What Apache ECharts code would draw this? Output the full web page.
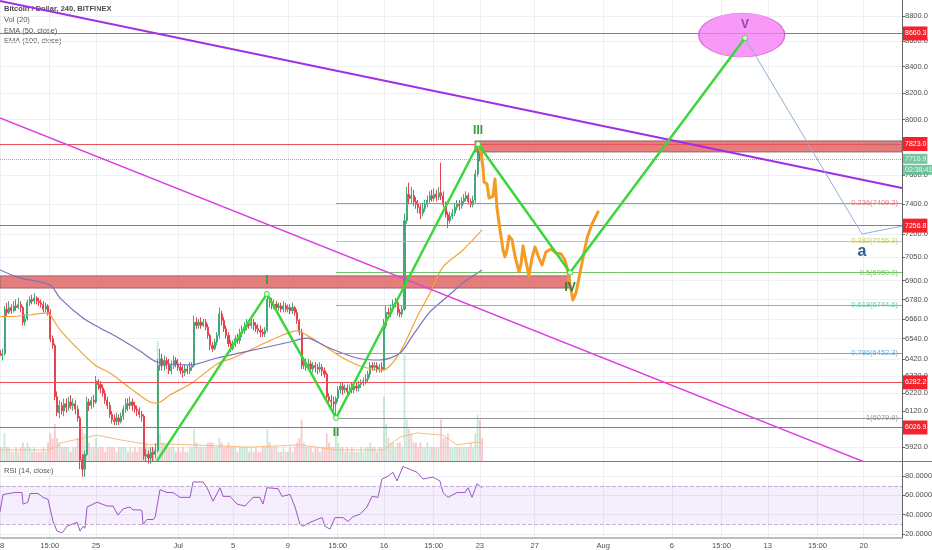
<!DOCTYPE html>
<html>
<head>
<meta charset="utf-8">
<script src="https://cdn.jsdelivr.net/npm/echarts@6.0.0/dist/echarts.min.js"></script>
<style>
  html, body { margin: 0; padding: 0; background: #fff; }
  #chart { width: 932px; height: 550px; }
</style>
</head>
<body>
<div id="chart"></div>
<script>

// 4h candles, first one opens Jun 18 00:00 -- [open, close, low, high]
var candles = [
  [6470,6440,6420,6490],[6440,6450,6410,6480],[6450,6720,6440,6740],[6720,6700,6680,6760],[6700,6730,6690,6770],[6730,6710,6690,6750],
  [6710,6740,6700,6770],[6740,6730,6710,6780],[6730,6750,6720,6790],[6750,6730,6700,6770],[6730,6640,6620,6740],[6640,6660,6620,6690],
  [6660,6760,6650,6780],[6760,6780,6740,6800],[6780,6770,6750,6810],[6770,6790,6750,6820],[6790,6770,6750,6800],[6770,6760,6740,6790],
  [6760,6750,6730,6780],[6750,6720,6700,6770],[6720,6740,6700,6760],[6740,6700,6680,6750],[6700,6540,6520,6720],[6540,6500,6480,6560],
  [6500,6200,6180,6510],[6200,6110,6090,6230],[6110,6150,6080,6180],[6150,6120,6100,6170],[6120,6160,6090,6190],[6160,6140,6110,6190],
  [6140,6170,6120,6200],[6170,6150,6130,6210],[6150,6160,6120,6190],[6160,6130,6100,6180],[6130,6080,6060,6150],[6080,5850,5800,6090],
  [5850,5800,5760,5880],[5800,5880,5760,5900],[5880,6170,5870,6200],[6170,6150,6120,6190],[6150,6180,6130,6200],[6180,6170,6140,6210],
  [6170,6290,6160,6320],[6290,6270,6240,6300],[6270,6250,6220,6290],[6250,6220,6200,6270],[6220,6180,6160,6240],[6180,6150,6130,6200],
  [6150,6100,6080,6170],[6100,6070,6050,6120],[6070,6060,6040,6100],[6060,6080,6040,6110],[6080,6060,6040,6100],[6060,6090,6050,6110],
  [6090,6130,6070,6150],[6130,6160,6110,6190],[6160,6150,6120,6190],[6150,6170,6130,6200],[6170,6150,6120,6190],[6150,6130,6110,6170],
  [6130,6120,6090,6150],[6120,6100,6080,6140],[6100,6090,6060,6120],[6090,5870,5850,6100],[5870,5880,5840,5910],[5880,5860,5830,5900],
  [5860,5890,5830,5920],[5890,5880,5840,5920],[5880,5900,5860,5940],[5900,6380,5890,6420],[6380,6420,6350,6480],[6420,6380,6350,6450],
  [6380,6410,6350,6440],[6410,6390,6360,6430],[6390,6350,6330,6420],[6350,6380,6330,6410],[6380,6410,6360,6440],[6410,6390,6370,6430],
  [6390,6370,6350,6420],[6370,6350,6330,6400],[6350,6340,6310,6380],[6340,6360,6320,6390],[6360,6350,6330,6380],[6350,6370,6330,6400],
  [6370,6380,6350,6400],[6380,6640,6370,6680],[6640,6620,6600,6670],[6620,6640,6600,6660],[6640,6620,6600,6670],[6620,6640,6610,6660],
  [6640,6610,6590,6660],[6610,6560,6540,6630],[6560,6500,6470,6570],[6500,6480,6460,6520],[6480,6520,6470,6540],[6520,6560,6500,6580],
  [6560,6690,6540,6730],[6690,6650,6620,6710],[6650,6600,6580,6670],[6600,6560,6540,6620],[6560,6510,6490,6580],[6510,6480,6460,6530],
  [6480,6510,6470,6530],[6510,6540,6490,6560],[6540,6530,6510,6570],[6530,6570,6510,6600],[6570,6590,6550,6620],[6590,6610,6570,6640],
  [6610,6630,6590,6660],[6630,6620,6600,6650],[6620,6640,6600,6680],[6640,6620,6590,6660],[6620,6600,6580,6640],[6600,6590,6570,6630],
  [6590,6580,6550,6620],[6580,6570,6550,6600],[6570,6590,6550,6610],[6590,6780,6580,6830],[6780,6760,6730,6800],[6760,6740,6720,6790],
  [6740,6750,6720,6780],[6750,6730,6700,6770],[6730,6740,6710,6760],[6740,6720,6700,6760],[6720,6740,6700,6770],[6740,6720,6700,6760],
  [6720,6730,6700,6750],[6730,6710,6690,6750],[6710,6730,6690,6760],[6730,6700,6680,6740],[6700,6650,6630,6720],[6650,6580,6560,6660],
  [6580,6380,6360,6600],[6380,6400,6360,6430],[6400,6370,6350,6420],[6370,6390,6350,6420],[6390,6360,6340,6410],[6360,6380,6340,6400],
  [6380,6370,6340,6400],[6370,6360,6330,6390],[6360,6370,6340,6400],[6370,6350,6320,6390],[6350,6330,6310,6370],[6330,6200,6180,6340],
  [6200,6180,6160,6220],[6180,6170,6140,6210],[6170,6160,6120,6200],[6160,6190,6080,6200],[6190,6240,6170,6260],[6240,6260,6220,6280],
  [6260,6240,6210,6280],[6240,6250,6220,6270],[6250,6230,6210,6270],[6230,6250,6210,6270],[6250,6240,6220,6280],[6240,6260,6220,6280],
  [6260,6250,6230,6280],[6250,6270,6230,6290],[6270,6280,6250,6300],[6280,6290,6260,6310],[6290,6300,6270,6330],[6300,6330,6280,6350],
  [6330,6380,6310,6400],[6380,6370,6350,6400],[6370,6380,6350,6400],[6380,6360,6340,6400],[6360,6370,6340,6390],[6370,6360,6340,6400],
  [6360,6620,6350,6660],[6620,6700,6600,6740],[6700,6690,6660,6730],[6690,6720,6670,6750],[6720,6750,6700,6780],[6750,6760,6730,6790],
  [6760,6700,6680,6780],[6700,6690,6670,6720],[6690,6720,6670,6740],[6720,7290,6710,7340],[7290,7470,7270,7520],[7470,7440,7400,7550],
  [7440,7460,7410,7520],[7460,7420,7390,7500],[7420,7400,7370,7450],[7400,7380,7340,7430],[7380,7340,7300,7400],[7340,7370,7320,7410],
  [7370,7400,7350,7430],[7400,7430,7380,7460],[7430,7460,7410,7490],[7460,7440,7420,7500],[7440,7470,7420,7510],[7470,7450,7420,7500],
  [7450,7480,7430,7520],[7480,7460,7430,7690],[7460,7400,7380,7490],[7400,7330,7310,7420],[7330,7290,7240,7350],[7290,7320,7270,7350],
  [7320,7340,7300,7370],[7340,7380,7320,7410],[7380,7400,7360,7430],[7400,7390,7360,7430],[7390,7420,7370,7450],[7420,7440,7400,7470],
  [7440,7460,7420,7490],[7460,7420,7400,7480],[7420,7400,7380,7440],[7400,7430,7380,7460],[7430,7610,7410,7640],[7610,7790,7590,7810],
  [7790,7760,7700,7823],[7760,7717,7690,7790]
];

// volume per candle (relative units)
var volumes = [
  3,3,6,3,3,2, 2,3,2,3,4,3, 4,3,2,3,2,2, 2,3,2,4,6,5, 8,5,4,3,3,3, 3,2,3,3,5,8,
  7,6,8,4,3,3, 5,3,3,3,2,3, 3,3,3,2,3,3, 3,3,2,3,2,3, 2,3,3,7,4,3, 3,3,3,26,6,4,
  4,3,3,3,3,2, 3,2,3,2,2,3, 3,7,4,3,3,3, 3,4,4,4,3,3, 5,4,3,3,4,3, 3,3,2,3,3,3,
  3,2,3,2,3,2, 2,3,3,7,4,3, 3,3,2,2,3,2, 2,3,2,3,4,5, 9,4,3,3,3,2, 3,3,2,3,3,6,
  4,3,3,7,4,3, 3,2,3,2,3,2, 2,2,3,2,3,3, 4,3,3,2,3,3, 14,8,5,4,4,3, 4,4,3,23,9,7,
  6,4,4,3,4,3, 3,4,3,3,3,3, 3,9,5,5,6,3, 3,3,3,3,3,3, 3,3,4,3,6,10, 9,5
];

// [day since Jun 18, value]
var volMa = [[0,2.4],[3.43,2.4],[4.16,3.0],[4.38,3.9],[7.08,5.6],[8.75,4.6],[10.94,3.5],[11.89,3.7],[14.08,3.5],
  [18.23,3.0],[21.88,3.5],[24.58,2.4],[27.94,2.4],[29.18,5.2],[30.42,6.1],[32.31,5.6],[33.33,3.5],[34.79,4.1],[35.16,3.9]];

var ema50 = [[0,6675],[0.73,6675],[2.19,6684],[3.28,6696],[3.65,6684],[4.38,6593],[5.47,6496],[6.93,6384],[8.02,6337],
  [9.48,6250],[10.94,6170],[11.45,6164],[12.4,6210],[14.0,6279],[15.83,6390],[17.0,6425],[18.23,6472],[19.47,6520],
  [20.64,6562],[21.66,6587],[22.61,6550],[23.56,6502],[25.02,6425],[26.48,6372],[27.94,6354],[29.18,6460],[30.42,6672],
  [31.36,6821],[32.31,6986],[33.77,7096],[35.16,7228]];

var ema100 = [[0,6967],[1.46,6916],[3.65,6871],[4.38,6789],[6.05,6666],[7.29,6605],[8.53,6550],[10.21,6466],[11.45,6401],
  [13.86,6384],[15.83,6425],[17.51,6455],[21.15,6520],[22.39,6544],[23.85,6490],[26.04,6425],[27.72,6413],[29.18,6455],
  [30.12,6562],[31.36,6703],[32.6,6796],[33.77,6884],[35.16,6967]];

var rsi = [[0,43],[0.22,61],[1.09,63],[1.6,63],[1.68,51],[2.04,53],[2.19,62],[2.77,62],[3.14,58],[3.5,56],[3.87,33],
  [4.16,23],[4.52,21],[4.89,28],[5.25,30],[5.62,32],[5.84,23],[6.05,28],[6.2,26],[6.35,48],[7.08,53],[7.8,49],[8.24,49],
  [8.61,39.5],[8.97,46],[9.48,48],[9.7,45],[10.21,45],[10.36,44],[10.43,30],[10.72,35],[11.16,35],[11.31,37],[11.67,66],
  [12.18,63],[12.62,63],[13.13,58],[13.86,58],[14.08,74],[14.81,74],[15.1,68],[15.54,54],[16.05,68],[16.27,59],[16.78,59],
  [17.29,51],[17.87,49],[18.45,58],[18.96,58],[19.18,51],[19.47,68],[20.28,67],[20.57,59],[21.15,61],[21.52,48],[21.88,30],
  [22.1,28],[22.61,32],[23.12,35],[23.49,37],[23.7,28],[24.07,25],[24.43,37],[25.02,37],[25.38,33],[25.75,38],[26.26,40.5],
  [26.77,48],[27.13,59],[27.57,58],[27.86,77],[28.3,80],[28.66,84],[28.96,75],[29.39,90],[29.91,87],[30.42,84],[30.85,77],
  [31.58,79],[32.09,75],[32.31,63],[32.68,58],[33.33,63],[33.92,63],[34.14,68],[34.43,58],[34.79,72],[35.16,68]];

// Elliott count: start, I, II, III, IV, V
var waveDays = [11.45, 19.47, 24.51, 34.87, 41.58, 54.34];
var wavePrices = [5845, 6815, 6080, 7823, 6950, 8624];
var waveNames = ['', 'I', 'II', 'III', 'IV', 'V'];

// hand drawn orange projection after III
var orangePath = [[34.87,7816],[35.08,7766],[35.23,7652],[35.3,7554],[35.52,7540],[35.67,7443],[35.96,7457],[36.1,7575],
  [36.25,7375],[36.47,7228],[36.69,7096],[36.83,7051],[36.98,7096],[37.13,7188],[37.35,7162],[37.56,7057],[37.86,6954],
  [38.0,7005],[38.15,7122],[38.37,7018],[38.58,6929],[38.8,7044],[39.02,7116],[39.31,7044],[39.53,6999],[39.82,7083],
  [40.19,7103],[40.55,7077],[40.92,7070],[41.21,7031],[41.43,6954],[41.65,6840],[41.79,6777],[42.01,6821],[42.23,6916],
  [42.52,7044],[42.82,7175],[43.18,7268],[43.62,7349]];

// correction leg V -> a
var aDays = [54.34, 62.87, 65.79];
var aPrices = [8624, 7201, 7254];
var aNames = ['', 'a', ''];

var purpleTrend = [[0, 8923], [65.79, 7513]];
var magentaTrend = [[0, 8012], [65.79, 5759]];
var ellipseCenter = [54.1, 8648];

var hLevels = [8660.3, 7823.0, 7256.8, 6282.2, 6026.9];
var lastPrice = 7716.9;
var countdown = '02:38:41';

var fibLevels = ['0', '0.236', '0.382', '0.5', '0.618', '0.786', '1'];
var fibPrices = [7823.0, 7409.3, 7155.3, 6950.0, 6744.6, 6452.3, 6079.9];
var fibStartDay = 24.5;

// supply / demand boxes: [dayFrom, priceTop, dayTo, priceBottom]
var boxes = [[34.65, 7845, 65.79, 7766], [0, 6929, 41.58, 6852]];

var priceTicks = [8800, 8600, 8400, 8200, 8000, 7600, 7400, 7200, 7050, 6900, 6780, 6660, 6540, 6420, 6320, 6220, 6120, 5920];
var rsiTicks = [20, 40, 60, 80];
var xTickDays = [0, 3.625, 7, 13, 17, 21, 24.625, 28, 31.625, 35, 39, 44, 49, 52.625, 56, 59.625, 63];
var xTickText = ['18', '15:00', '25', 'Jul', '5', '9', '15:00', '16', '15:00', '23', '27', 'Aug', '6', '15:00', '13', '15:00', '20'];

var dayMax = 65.79;
var font = 'Liberation Sans';
var gridColor = '#eceff4';


var chart = echarts.init(document.getElementById('chart'));

var candleData = candles.map(function (c, i) {
  return [i / 6, c[0], c[1], c[2], c[3]];
});

var volData = volumes.map(function (v, i) {
  var up = candles[i][1] >= candles[i][0];
  return {
    value: [i / 6, v],
    itemStyle: { color: up ? 'rgba(83,185,135,0.32)' : 'rgba(235,77,92,0.3)' }
  };
});

var fibColors = ['#8c8c8c', '#e26d6d', '#c2cb5a', '#67bb58', '#4cc9a2', '#58a9dc', '#8c8c8c'];

var fibLines = fibPrices.map(function (p, i) {
  return [
    { coord: [fibStartDay, p], lineStyle: { color: fibColors[i] } },
    {
      coord: [dayMax, p],
      label: {
        show: true,
        position: 'insideEnd',
        distance: 4,
        color: fibColors[i],
        fontSize: 7.5,
        fontFamily: font,
        formatter: fibLevels[i] + '(' + p.toFixed(1) + ')'
      }
    }
  ];
});

var waveColors = ['#3a9a3a', '#3a9a3a', '#3a9a3a', '#3a9a3a', '#2d7a2d', '#8e44ad'];
var waveData = waveDays.map(function (d, i) {
  return {
    value: [d, wavePrices[i]],
    symbolSize: i === 0 ? 0 : 5,
    label: {
      show: i > 0,
      formatter: waveNames[i],
      position: i % 2 === 1 ? 'top' : 'bottom',
      distance: i % 2 === 1 ? 4 : 6,
      color: waveColors[i],
      fontSize: 12,
      fontWeight: 'bold',
      fontFamily: font
    }
  };
});

var aData = aDays.map(function (d, i) {
  return {
    value: [d, aPrices[i]],
    symbolSize: 0.1,
    label: {
      show: aNames[i] !== '',
      formatter: aNames[i],
      position: 'bottom',
      distance: 10,
      color: '#2b5f8e',
      fontSize: 16,
      fontWeight: 'bold',
      fontFamily: font
    }
  };
});

var boxData = boxes.map(function (b) {
  return [{ coord: [b[0], b[1]] }, { coord: [b[2], b[3]] }];
});

function xLabel(v) {
  var best = 0;
  for (var i = 1; i < xTickDays.length; i++) {
    if (Math.abs(xTickDays[i] - v) < Math.abs(xTickDays[best] - v)) best = i;
  }
  return xTickText[best];
}

var hidden = {
  show: false,
  axisLine: { show: false, onZero: false },
  axisTick: { show: false },
  axisLabel: { show: false },
  splitLine: { show: false }
};

var tagLabel = {
  color: '#fff', fontSize: 7, fontFamily: font, padding: [2, 1, 1, 2], lineHeight: 11
};

var option = {
  animation: false,
  backgroundColor: '#ffffff',
  textStyle: { fontFamily: font },

  grid: [
    { left: 0, right: 30, top: 0, height: 461, outerBoundsMode: 'none', containLabel: false },
    { left: 0, right: 30, top: 462, height: 76, outerBoundsMode: 'none', containLabel: false }
  ],

  xAxis: [
    {
      gridIndex: 0, type: 'value', min: 0, max: dayMax,
      axisLine: { show: false, onZero: false },
      axisTick: { show: false, customValues: xTickDays },
      axisLabel: { show: false, customValues: xTickDays },
      splitLine: { show: true, lineStyle: { color: gridColor } }
    },
    {
      gridIndex: 1, type: 'value', min: 0, max: dayMax,
      axisLine: { show: true, onZero: false, lineStyle: { color: '#a9a9a9', width: 1.5 } },
      axisTick: { show: false, customValues: xTickDays },
      axisLabel: {
        customValues: xTickDays, formatter: xLabel,
        color: '#4d4d4d', fontSize: 7.5, margin: 4
      },
      splitLine: { show: true, lineStyle: { color: gridColor } }
    }
  ],

  yAxis: [
    {
      gridIndex: 0, type: 'log', logBase: 10, min: 5844, max: 8931, position: 'right',
      axisLine: { show: true, onZero: false, lineStyle: { color: '#666' } },
      axisTick: { show: true, inside: false, length: 3, customValues: priceTicks, lineStyle: { color: '#666' } },
      axisLabel: {
        customValues: priceTicks,
        formatter: function (v) { return Number(v).toFixed(1); },
        color: '#4d4d4d', fontSize: 7.5, margin: 3
      },
      splitLine: { show: true, lineStyle: { color: gridColor } }
    },
    Object.assign({ gridIndex: 0, type: 'value', min: 0, max: 100, position: 'left' }, hidden),
    {
      gridIndex: 1, type: 'value', min: 15.8, max: 94.7, position: 'right',
      axisLine: { show: true, onZero: false, lineStyle: { color: '#666' } },
      axisTick: { show: true, inside: false, length: 3, customValues: rsiTicks, lineStyle: { color: '#666' } },
      axisLabel: {
        customValues: rsiTicks,
        formatter: function (v) { return Number(v).toFixed(4); },
        color: '#4d4d4d', fontSize: 7.5, margin: 3
      },
      splitLine: { show: true, lineStyle: { color: gridColor } }
    }
  ],

  graphic: [
    { type: 'text', x: 4, y: 5, style: { text: 'Bitcoin / Dollar, 240, BITFINEX', fill: '#4a4a4a', font: 'bold 7.5px "Liberation Sans"' } },
    { type: 'text', x: 4, y: 16, style: { text: 'Vol (20)', fill: '#555', font: '7.5px "Liberation Sans"' } },
    { type: 'text', x: 4, y: 26.5, style: { text: 'EMA (50, close)', fill: '#555', font: '7.5px "Liberation Sans"' } },
    { type: 'text', x: 4, y: 37, style: { text: 'EMA (100, close)', fill: '#555', font: '7.5px "Liberation Sans"' } },
    { type: 'text', x: 4, y: 467, style: { text: 'RSI (14, close)', fill: '#555', font: '7.5px "Liberation Sans"' } },
    { type: 'line', z: 100, shape: { x1: 0, y1: 461.5, x2: 932, y2: 461.5 }, style: { stroke: '#7d7d7d', lineWidth: 1 } }
  ],

  series: [
    {
      name: 'Vol', type: 'bar', xAxisIndex: 0, yAxisIndex: 1,
      data: volData, barWidth: 1.8, silent: true, z: 1
    },
    {
      name: 'Vol MA', type: 'line', xAxisIndex: 0, yAxisIndex: 1,
      data: volMa, symbol: 'none', silent: true, z: 1,
      lineStyle: { color: '#f6bd84', width: 1 }
    },
    {
      name: 'Price', type: 'candlestick', xAxisIndex: 0, yAxisIndex: 0,
      data: candleData, encode: { x: 0, y: [1, 2, 3, 4] },
      barWidth: 1.6, silent: true, z: 2,
      itemStyle: {
        color: '#45a878', color0: '#e6434f',
        borderColor: '#45a878', borderColor0: '#e6434f', borderWidth: 1
      }
    },
    {
      name: 'EMA 50', type: 'line', xAxisIndex: 0, yAxisIndex: 0,
      data: ema50, symbol: 'none', smooth: 0.3, silent: true, z: 3,
      lineStyle: { color: '#f5a23a', width: 1.2 }
    },
    {
      name: 'EMA 100', type: 'line', xAxisIndex: 0, yAxisIndex: 0,
      data: ema100, symbol: 'none', smooth: 0.3, silent: true, z: 3,
      lineStyle: { color: '#7b70bd', width: 1.2 }
    },
    {
      name: 'Fib', type: 'line', xAxisIndex: 0, yAxisIndex: 0, data: [], z: 3,
      markLine: {
        symbol: ['none', 'none'], silent: true,
        lineStyle: { width: 1, type: 'solid', opacity: 0.9 },
        data: fibLines
      }
    },
    {
      name: 'Levels', type: 'line', xAxisIndex: 0, yAxisIndex: 0, data: [], z: 4, clip: false,
      markLine: {
        symbol: ['none', 'none'], silent: true,
        lineStyle: { color: '#ef4f57', width: 1, type: 'solid' },
        label: Object.assign({
          show: true, position: 'end', distance: 1,
          formatter: function (p) { return Number(p.value).toFixed(1); },
          backgroundColor: '#f3222d'
        }, tagLabel),
        data: hLevels.map(function (v) { return { yAxis: v }; })
      }
    },
    {
      name: 'Last', type: 'line', xAxisIndex: 0, yAxisIndex: 0, data: [], z: 4, clip: false,
      markLine: {
        symbol: ['none', 'none'], silent: true,
        lineStyle: { color: '#53b987', width: 1, type: 'dotted', opacity: 0.8 },
        label: {
          show: true, position: 'end', distance: 1,
          formatter: '{e| }\n{p|' + lastPrice.toFixed(1) + '}\n{p|' + countdown + '}',
          rich: {
            e: { height: 11, lineHeight: 11, fontSize: 7 },
            p: Object.assign({ backgroundColor: '#53b987' }, tagLabel)
          }
        },
        data: [{ yAxis: lastPrice }]
      }
    },
    {
      name: 'Boxes', type: 'line', xAxisIndex: 0, yAxisIndex: 0, data: [], z: 5,
      markArea: {
        silent: true,
        itemStyle: { color: 'rgba(224,96,96,0.82)', borderColor: '#9a6468', borderWidth: 1 },
        data: boxData
      }
    },
    {
      name: 'Target', type: 'scatter', xAxisIndex: 0, yAxisIndex: 0,
      data: [ellipseCenter], symbol: 'circle', symbolSize: [86, 44], silent: true, z: 5,
      itemStyle: { color: '#f77ff5', borderColor: '#cf55cf', borderWidth: 1 }
    },
    {
      name: 'Trend A', type: 'line', xAxisIndex: 0, yAxisIndex: 0,
      data: purpleTrend, symbol: 'none', silent: true, z: 6,
      lineStyle: { color: '#9f2fe3', width: 2 }
    },
    {
      name: 'Trend B', type: 'line', xAxisIndex: 0, yAxisIndex: 0,
      data: magentaTrend, symbol: 'none', silent: true, z: 6,
      lineStyle: { color: '#e040e0', width: 1.5 }
    },
    {
      name: 'Projection', type: 'line', xAxisIndex: 0, yAxisIndex: 0,
      data: orangePath, symbol: 'none', silent: true, z: 7,
      lineStyle: { color: '#f59a22', width: 3, cap: 'round', join: 'round' }
    },
    {
      name: 'Wave', type: 'line', xAxisIndex: 0, yAxisIndex: 0,
      data: waveData, symbol: 'circle', silent: true, z: 8,
      itemStyle: { color: '#eaffea', borderColor: '#3bd63b', borderWidth: 1 },
      lineStyle: { color: '#3bd63b', width: 2.5 }
    },
    {
      name: 'Correction', type: 'line', xAxisIndex: 0, yAxisIndex: 0,
      data: aData, symbol: 'circle', silent: true, z: 8,
      itemStyle: { color: '#8fb0d6' },
      lineStyle: { color: '#8fb0d6', width: 1 }
    },
    {
      name: 'RSI', type: 'line', xAxisIndex: 1, yAxisIndex: 2,
      data: rsi, symbol: 'none', silent: true, z: 3,
      lineStyle: { color: '#9c56c4', width: 1 },
      markArea: {
        silent: true,
        itemStyle: { color: 'rgba(160,90,230,0.1)' },
        data: [[{ yAxis: 30 }, { yAxis: 70 }]]
      },
      markLine: {
        symbol: ['none', 'none'], silent: true, label: { show: false },
        lineStyle: { color: '#c3acd6', width: 1, type: 'dashed' },
        data: [{ yAxis: 30 }, { yAxis: 70 }]
      }
    }
  ]
};

chart.setOption(option);

</script>
</body>
</html>
